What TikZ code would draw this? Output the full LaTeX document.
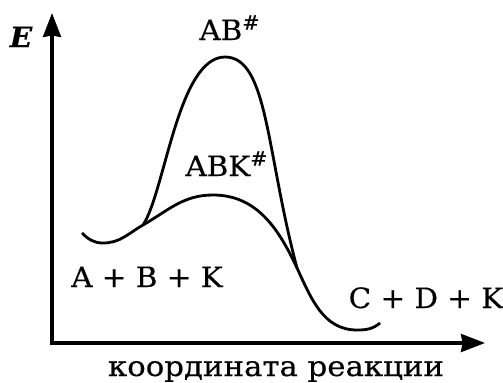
\documentclass[tikz,border=0pt]{standalone}
\usepackage{fontspec}
\setmainfont{DejaVu Serif}[FakeStretch=1.05, FakeBold=0.4]
\usetikzlibrary{arrows.meta}
\tikzset{
  axis/.style={line width=1.6pt, {Stealth[length=12pt,width=9pt,inset=0.8pt]}-{Stealth[length=12pt,width=9pt,inset=0.8pt]}},
  curve/.style={line width=1.4pt},
  lbl/.style={font=\fontsize{14}{16}\selectfont, inner sep=0pt, anchor=base}
}
\begin{document}
\begin{tikzpicture}[x=0.5pt, y=0.5pt]
  \useasboundingbox (0,0) rectangle (503,382);
  \coordinate (O) at (52,39);
  \coordinate (Etop) at (52,369);
  \coordinate (Xend) at (485,39);
  \draw[axis] (Etop) -- (O) -- (Xend);

  \coordinate (s) at (82,149);
  \coordinate (m1) at (103,139);
  \coordinate (j1) at (143,157);
  \coordinate (p1) at (213,187);
  \coordinate (p2) at (225,325);
  \coordinate (j2) at (297,114);
  \coordinate (m2) at (357,52);
  \coordinate (e) at (380,59);

  \draw[curve] (s) to[out=-45,in=180] (m1) to[out=0,in=210] (j1) to[out=30,in=180] (p1)
    to[out=0,in=115] (j2) to[out=-65,in=180] (m2) to[out=0,in=-140] (e);
  \draw[curve] (j1) .. controls (165,190) and (178,325) .. (p2)
    .. controls (268,325) and (266,230) .. (j2);

  \node[lbl, font=\fontsize{14}{16}\selectfont\bfseries\itshape] (E) at (21,335) {E};
  \node[lbl] (ab) at (230,342) {AB\textsuperscript{\#}};
  \node[lbl] (abk) at (227,206) {ABK\textsuperscript{\#}};
  \node[lbl] (start) at (147,95) {A + B + K};
  \node[lbl] (end) at (426,74) {C + D + K};
  \node[lbl] (rc) at (276,6) {\addfontfeature{FakeStretch=1.1}координата реакции};
\end{tikzpicture}
\end{document}
